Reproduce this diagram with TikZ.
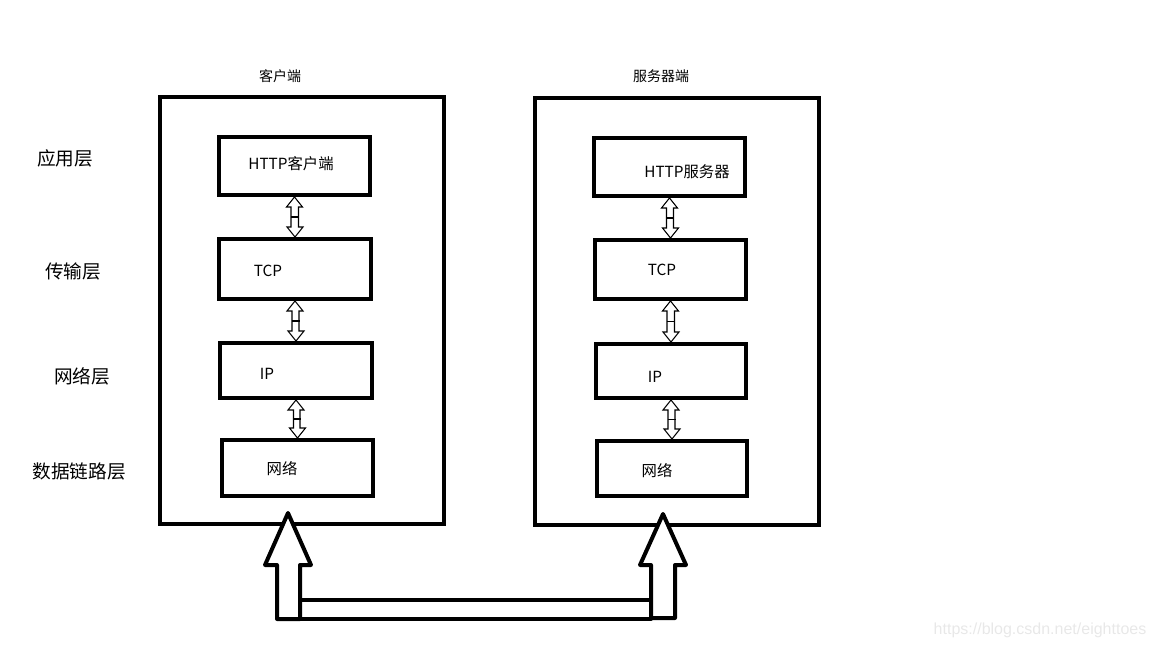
\documentclass[tikz,border=0pt]{standalone}
\usepackage{fontspec}
\setmainfont{Noto Sans CJK SC}
\newfontfamily\wmfont{Liberation Sans}
\usetikzlibrary{calc,fit}
\tikzset{
  outerbox/.style={draw, line width=3pt, inner sep=0pt, rectangle},
  innerbox/.style={draw, line width=3pt, inner sep=0pt, rectangle},
  layerlbl/.style={font=\fontsize{14}{14}\selectfont, inner sep=0pt},
  boxtxt/.style={font=\fontsize{11.5}{11.5}\selectfont, inner sep=0pt},
  titletxt/.style={font=\fontsize{10.5}{10.5}\selectfont, inner sep=0pt},
  thinarr/.style={draw, line width=0.8pt, fill=white, line join=miter},
  bigarr/.style={draw, line width=3pt, line join=round, fill=white},
}
\newcommand\dblarrow[2]{%
  \path[thinarr] let \p1=(#1.south), \p2=(#2.north) in
    (\x1,\y1) -- ++(8,10) -- ++(-4,0) |- ($(\x2,\y2)+(4,-10)$) -- ++(4,0) -- (\x2,\y2)
    -- ++(-8,-10) -- ++(4,0) |- ($(\x1,\y1)+(-4,10)$) -- ++(-4,0) -- cycle;
  \draw[line width=0.8pt] let \p1=(#1.south), \p2=(#2.north) in
    ($($(\p1)!0.5!(\p2)$)+(-4,0)$) -- ++(8,0);
}
\begin{document}
\begin{tikzpicture}[x=0.75pt,y=-0.75pt]
\useasboundingbox (0,0) rectangle (1152,648);
% outer boxes
\node[outerbox, fit={(160,97)(444,524)}] (client) {};
\node[outerbox, fit={(535,98)(819,525)}] (server) {};
\node[titletxt] (ctitle) at (280,76) {客户端};
\node[titletxt] (stitle) at (661,76) {服务器端};
% layer labels
\node[layerlbl] (app) at (65,158) {应用层};
\node[layerlbl] (trans) at (73,271) {传输层};
\node[layerlbl] (net) at (82,376) {网络层};
\node[layerlbl] (link) at (79,471) {数据链路层};
% client inner boxes
\node[innerbox, fit={(219,137)(370,195)}] (l1) {};
\node[innerbox, fit={(219,239)(371,299)}] (l2) {};
\node[innerbox, fit={(220,343)(372,398)}] (l3) {};
\node[innerbox, fit={(222,440)(373,496)}] (l4) {};
\node[boxtxt] (l1t) at (291,164) {HTTP客户端};
\node[boxtxt] (l2t) at (268,271) {TCP};
\node[boxtxt] (l3t) at (267,374) {IP};
\node[boxtxt] (l4t) at (282,469) {网络};
% server inner boxes
\node[innerbox, fit={(594,138)(745,196)}] (r1) {};
\node[innerbox, fit={(595,240)(746,299)}] (r2) {};
\node[innerbox, fit={(596,344)(746,398)}] (r3) {};
\node[innerbox, fit={(597,441)(747,496)}] (r4) {};
\node[boxtxt] (r1t) at (687,172) {HTTP服务器};
\node[boxtxt] (r2t) at (662,270) {TCP};
\node[boxtxt] (r3t) at (655,377) {IP};
\node[boxtxt] (r4t) at (657,471) {网络};
% small double arrows
\dblarrow{l1}{l2}
\dblarrow{l2}{l3}
\dblarrow{l3}{l4}
\dblarrow{r1}{r2}
\dblarrow{r2}{r3}
\dblarrow{r3}{r4}
% big arrows
\coordinate (ltip) at (288,513);
\coordinate (rtip) at (663,514);
\path[bigarr] (277,619) -- (277,565) -- (265,565) -- (ltip) -- (311,565) -- (300,565) -- (300,619) -- cycle;
\path[bigarr] (651,618) -- (651,565) -- (640,565) -- (rtip) -- (686,565) -- (675,565) -- (675,618) -- cycle;
\draw[line width=3pt, line join=round] (300,600) rectangle (651,619);
\draw[line width=3pt, line join=round] (277,619) -- (300,619);
% watermark
\node[font=\fontsize{12}{12}\selectfont\wmfont, text=black!9, inner sep=0pt] (wm) at (1040,630) {https://blog.csdn.net/eighttoes};
\end{tikzpicture}
\end{document}
